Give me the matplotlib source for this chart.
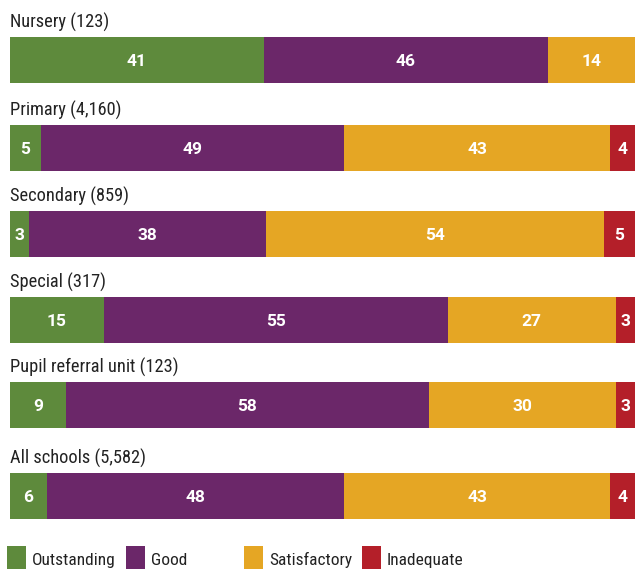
import matplotlib.pyplot as plt
from matplotlib.patches import Rectangle

plt.rcParams['font.family'] = ['Roboto Condensed', 'Lato', 'DejaVu Sans']

groups = ['Nursery (123)', 'Primary (4,160)', 'Secondary (859)', 'Special (317)',
          'Pupil referral unit (123)', 'All schools (5,582)']
grades = ['Outstanding', 'Good', 'Satisfactory', 'Inadequate']
outstanding = [41, 5, 3, 15, 9, 6]
good = [46, 49, 38, 55, 58, 48]
satisfactory = [14, 43, 54, 27, 30, 43]
inadequate = [0, 4, 5, 3, 3, 4]
colors = ['#5E8A3C', '#6B2769', '#E5A624', '#B41F29']

W, H = 635, 569
fig = plt.figure(figsize=(W / 100, H / 100), dpi=100)
ax = fig.add_axes([10 / W, 0, 625 / W, 1])
ax.set_xlim(0, 100)
ax.set_ylim(H, 0)
ax.axis('off')

bar_tops = [37, 125, 211, 297, 382, 473]
bar_h = 46
series = [outstanding, good, satisfactory, inadequate]

for i, name in enumerate(groups):
    vals = [s[i] for s in series]
    total = sum(vals)
    left = 0
    yc = bar_tops[i] + bar_h / 2
    for v, c in zip(vals, colors):
        if v == 0:
            continue
        w = v / total * 100
        ax.barh(yc, w, left=left, height=bar_h, color=c, linewidth=0)
        ax.text(left + w / 2, yc + 1, str(v), ha='center', va='center',
                color='white', fontsize=12.5, fontweight='bold', family=['Roboto', 'DejaVu Sans'])
        left += w
    ax.text(0, bar_tops[i] - 9, name, ha='left', va='baseline',
            fontsize=13.2, color='#222222')

# legend
leg_x = [7, 126, 244, 362]
for x, g, c in zip(leg_x, grades, colors):
    fig.patches.append(Rectangle((x / W, 0), 19 / W, 23 / H,
                                 transform=fig.transFigure, color=c, linewidth=0))
    fig.text((x + 25) / W, 4 / H, g, ha='left', va='baseline',
             fontsize=12.5, color='#222222')

fig.savefig('out.png', dpi=100)
